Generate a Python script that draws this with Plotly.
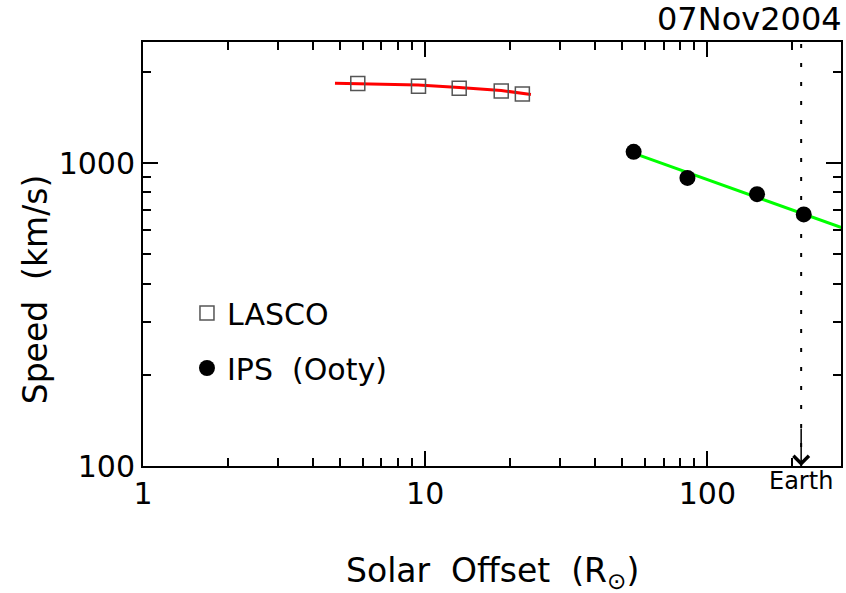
import math
import plotly.graph_objects as go

# ---- data ----
lasco_x = [5.77, 9.47, 13.2, 18.6, 22.1]
lasco_v = [1833, 1795, 1768, 1729, 1693]
lasco_fit_x = [4.79, 9.45, 13.2, 18.6, 23.7]
lasco_fit_v = [1837, 1813, 1777, 1738, 1685]

ips_x = [54.8, 85, 150, 219.6]
ips_v = [1090, 894, 790, 677]
ips_fit_x = [55, 300]
ips_fit_v = [1077, 612]

earth_r = 215
earth_line_v = [100, 2600]

x_major = [1, 10, 100]
x_minor = [2, 3, 4, 5, 6, 7, 8, 9, 20, 30, 40, 50, 60, 70, 80, 90, 200, 300]
y_major = [100, 1000]
y_minor = [200, 300, 400, 500, 600, 700, 800, 900, 2000]

FONT = "DejaVu Sans"
SP = "\u00a0"

fig = go.Figure()

fig.add_trace(go.Scatter(x=lasco_fit_x, y=lasco_fit_v, mode="lines",
                         line=dict(color="#ff0000", width=3),
                         showlegend=False, hoverinfo="skip"))
fig.add_trace(go.Scatter(x=ips_fit_x, y=ips_fit_v, mode="lines",
                         line=dict(color="#00ff00", width=3),
                         showlegend=False, hoverinfo="skip"))
fig.add_trace(go.Scatter(x=[earth_r, earth_r], y=earth_line_v, mode="lines",
                         line=dict(color="black", width=2, dash="4px,15px"),
                         showlegend=False, hoverinfo="skip"))
fig.add_trace(go.Scatter(x=lasco_x, y=lasco_v, mode="markers", name="LASCO",
                         marker=dict(symbol="square-open", size=14, color="#555555",
                                     line=dict(width=1.5, color="#555555")),
                         legend="legend"))
fig.add_trace(go.Scatter(x=ips_x, y=ips_v, mode="markers",
                         name="IPS" + SP * 2 + "(Ooty)",
                         marker=dict(symbol="circle", size=16, color="black"),
                         legend="legend2"))

axis_common = dict(
    type="log", showgrid=False, zeroline=False,
    showline=True, linecolor="black", linewidth=2, mirror="ticks",
    ticks="inside", ticklen=15, tickwidth=2, tickcolor="black",
    tickfont=dict(family=FONT, size=30, color="black"),
)

fig.update_layout(
    width=846, height=593,
    margin=dict(l=143, r=3, t=42, b=127),
    plot_bgcolor="white", paper_bgcolor="white",
    font=dict(family=FONT, color="black"),
    xaxis=dict(axis_common, range=[0, math.log10(297.6)],
               tickvals=x_major, ticktext=[str(v) for v in x_major],
               minor=dict(tickvals=x_minor, ticks="inside", ticklen=8,
                          tickwidth=1.5, tickcolor="black", showgrid=False)),
    yaxis=dict(axis_common, range=[2, 3.4],
               tickvals=y_major, ticktext=[str(v) for v in y_major],
               minor=dict(tickvals=y_minor, ticks="inside", ticklen=8,
                          tickwidth=1.5, tickcolor="black", showgrid=False)),
    legend=dict(x=0.063, y=(466 - 313) / 424, xanchor="left", yanchor="middle",
                bgcolor="rgba(0,0,0,0)", font=dict(family=FONT, size=30)),
    legend2=dict(x=0.063, y=(466 - 368) / 424, xanchor="left", yanchor="middle",
                 bgcolor="rgba(0,0,0,0)", font=dict(family=FONT, size=30)),
)

fig.add_annotation(text="Solar" + SP * 2 + "Offset" + SP * 2 + "(R<sub>⊙</sub>)",
                   xref="paper", yref="paper",
                   x=0.5, y=(466 - 572) / 424, xanchor="center", yanchor="middle",
                   showarrow=False, font=dict(family=FONT, size=33))
fig.add_annotation(text="Speed" + SP * 2 + "(km/s)", xref="paper", yref="paper",
                   x=(35 - 143) / 700, y=(466 - 289) / 424, textangle=-90,
                   xanchor="center", yanchor="middle",
                   showarrow=False, font=dict(family=FONT, size=33))
fig.add_annotation(text="07Nov2004", xref="paper", yref="paper",
                   x=1, y=1, xanchor="right", yanchor="bottom", yshift=2, xshift=3,
                   showarrow=False, font=dict(family=FONT, size=32))
fig.add_annotation(text="Earth", x=math.log10(earth_r), xref="x", yref="paper",
                   y=(466 - 481) / 424, xanchor="center", yanchor="middle",
                   showarrow=False, font=dict(family=FONT, size=24))
fig.add_annotation(text=" ", x=math.log10(earth_r), y=2, xref="x", yref="y",
                   ax=0, ay=-40, showarrow=True, arrowhead=4, arrowsize=2.0,
                   arrowwidth=1.5, arrowcolor="black", font=dict(size=2))

fig.write_html("out.html")
